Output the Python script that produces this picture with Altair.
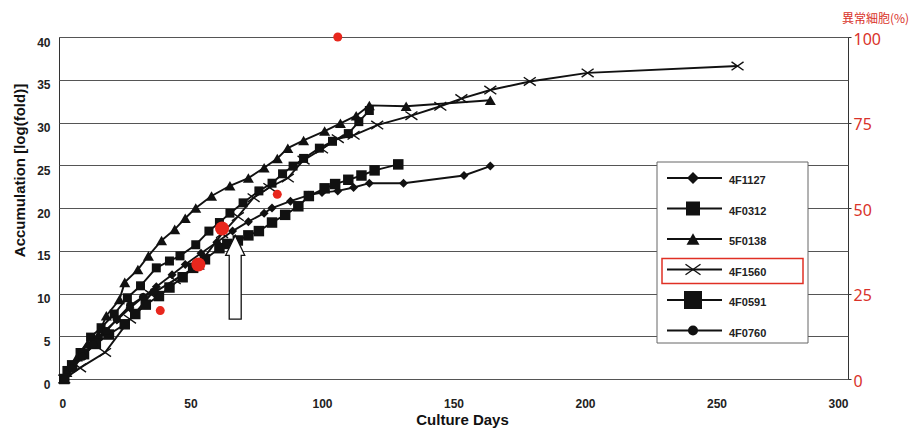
import altair as alt
import pandas as pd

# ---------------- data ----------------
series_names = ["4F1127", "4F0312", "5F0138", "4F1560", "4F0591", "4F0760"]

days_4F1127 = [2, 5, 9, 13, 17, 22, 27, 32, 37, 43, 48, 54, 60, 66, 72, 78, 81, 88, 95, 100, 106, 112, 118, 131, 154, 164]
acc_4F1127 = [0, 1.4, 2.8, 4.2, 5.5, 6.9, 8.3, 9.6, 10.8, 12.2, 13.4, 14.7, 16.0, 17.3, 18.4, 19.4, 20.0, 20.8, 21.5, 21.8, 22.0, 22.4, 22.9, 22.9, 23.8, 24.9]

days_4F0312 = [2, 3, 8, 12, 16, 21, 26, 31, 37, 42, 46, 52, 57, 61, 65, 70, 76, 81, 85, 89, 93, 99, 104, 110, 114, 118]
acc_4F0312 = [0, 1.0, 3.1, 4.9, 6.0, 7.6, 9.5, 10.9, 13.0, 13.8, 14.4, 15.7, 17.3, 18.3, 19.4, 20.6, 22.0, 22.9, 24.0, 24.9, 25.8, 27.0, 27.8, 28.7, 30.1, 31.4]

days_5F0138 = [2, 3, 7, 11, 15, 18, 23, 25, 30, 34, 39, 44, 48, 52, 58, 65, 72, 78, 83, 87, 93, 101, 107, 113, 118, 132, 164]
acc_5F0138 = [0, 0.8, 2.6, 4.1, 5.2, 7.4, 9.3, 11.3, 12.8, 14.4, 16.2, 17.5, 18.8, 20.0, 21.4, 22.6, 23.5, 24.7, 25.8, 27.0, 27.9, 29.0, 29.9, 30.8, 32.0, 31.9, 32.6]

days_4F1560 = [2, 8, 17.5, 27, 35, 44, 53, 62, 68, 74, 80, 87, 93, 100, 106, 112, 121, 134, 145, 153, 164, 179, 201, 258]
acc_4F1560 = [0, 1.3, 3.1, 7.0, 9.9, 11.6, 13.3, 17.0, 19.0, 21.2, 22.4, 23.5, 25.6, 26.9, 28.1, 28.5, 29.7, 30.8, 31.9, 32.8, 33.8, 34.8, 35.8, 36.6]

days_4F0591 = [2, 5, 9.5, 14, 19, 25, 29, 33, 38, 42, 47, 51, 55.5, 61, 64, 68, 72, 76, 81, 86, 91, 95, 101, 105, 110, 115, 120, 129]
acc_4F0591 = [0, 1.6, 2.9, 4.1, 5.2, 6.4, 7.6, 8.7, 9.7, 10.7, 11.9, 13.0, 14.0, 15.3, 15.8, 16.2, 16.8, 17.3, 18.3, 19.2, 20.2, 21.4, 22.3, 22.8, 23.3, 23.8, 24.4, 25.1]

days_4F0760 = [2, 5, 9, 13, 18, 22, 27, 32, 36]
acc_4F0760 = [0, 1.2, 2.6, 4.0, 5.6, 7.0, 8.6, 9.6, 10.2]

series_days = [days_4F1127, days_4F0312, days_5F0138, days_4F1560, days_4F0591, days_4F0760]
series_acc = [acc_4F1127, acc_4F0312, acc_5F0138, acc_4F1560, acc_4F0591, acc_4F0760]

# abnormal cells (%) - right axis
red_days = [38.5, 53, 62, 83, 106]
red_pct = [20, 33.5, 44, 54, 100]
red_kind = ["small", "large", "large", "small", "small"]

# arrow annotation (culture day, from / to on the left axis)
arrow_day = [67]
arrow_from = [7.0]
arrow_to = [16.8]

x_ticks = [0, 50, 100, 150, 200, 250, 300]
y_ticks = [0, 5, 10, 15, 20, 25, 30, 35, 40]
pct_ticks = [0, 25, 50, 75, 100]

# ---------------- styling ----------------
W, H = 789, 342
INK = "#111111"
RED = "#d9322a"
FONT = "Liberation Sans"

X_PATH = "M -1 -0.7 L 1 0.7 M -1 0.7 L 1 -0.7"
styles = {
    "4F1127": dict(shape="diamond", filled=True, size=81, lsize=144),
    "4F0312": dict(shape="square", filled=True, size=81, lsize=196),
    "5F0138": dict(shape="triangle-up", filled=True, size=121, lsize=169),
    "4F1560": dict(shape=X_PATH, filled=False, size=144, lsize=225),
    "4F0591": dict(shape="square", filled=True, size=110, lsize=324),
    "4F0760": dict(shape="circle", filled=True, size=64, lsize=100),
}

frames = []
for name, d, v in zip(series_names, series_days, series_acc):
    frames.append(pd.DataFrame({"series": name, "day": d, "acc": v}))
df = pd.concat(frames, ignore_index=True)

X = alt.X(
    "day:Q",
    scale=alt.Scale(domain=[0, 300], nice=False),
    axis=alt.Axis(
        values=x_ticks, grid=False, domain=False, ticks=False,
        labelPadding=19, labelFont=FONT, labelFontSize=12, labelFontWeight="bold",
        labelColor="#222", title="Culture Days", titleFont=FONT, titleFontSize=15,
        titleFontWeight="bold", titleColor=INK, titlePadding=3, titleX=403,
    ),
)
Y = alt.Y(
    "acc:Q",
    scale=alt.Scale(domain=[0, 40], nice=False),
    axis=alt.Axis(
        values=y_ticks, grid=True, gridColor="#555", gridWidth=1, domain=False,
        ticks=False, labelPadding=9, labelOffset=5, labelFont=FONT, labelFontSize=12,
        labelFontWeight="bold", labelColor="#222",
        title="Accumulation [log(fold)]", titleFont=FONT, titleFontSize=15,
        titleFontWeight="bold", titleColor=INK, titleAngle=270, titleX=-40,
        titleY=133, titleAlign="center", titleBaseline="middle",
    ),
)

lines = alt.Chart(df).mark_line(color=INK, strokeWidth=1.9).encode(
    x=X, y=Y, detail="series:N"
)

point_layers = []
for name in series_names:
    st = styles[name]
    sub = df[df.series == name]
    if st["filled"]:
        mk = alt.Chart(sub).mark_point(shape=st["shape"], filled=True, fill=INK,
                                       size=st["size"], opacity=1, strokeWidth=0)
    else:
        mk = alt.Chart(sub).mark_point(shape=st["shape"], filled=False, stroke=INK,
                                       size=st["size"], opacity=1, strokeWidth=1.4)
    point_layers.append(mk.encode(x=X, y=Y))

# arrow drawn as one custom symbol, sized from the axis scale
px_len = (arrow_to[0] - arrow_from[0]) * H / 40.0
r = px_len / 2.0
hb = -1 + 20.0 / r
ARROW = (f"M {-6/r:.3f} 1 L {-6/r:.3f} {hb:.3f} L {-9.5/r:.3f} {hb:.3f} L 0 -1 "
         f"L {9.5/r:.3f} {hb:.3f} L {6/r:.3f} {hb:.3f} L {6/r:.3f} 1 Z")
arrow_df = pd.DataFrame({"day": arrow_day,
                         "acc": [(a + b) / 2 for a, b in zip(arrow_from, arrow_to)]})
arrow = alt.Chart(arrow_df).mark_point(
    shape=ARROW, filled=True, fill="white", stroke=INK, strokeWidth=1.3,
    size=px_len ** 2, opacity=1
).encode(x=X, y=Y)

main = alt.layer(lines, *point_layers, arrow)

red_df = pd.DataFrame({"day": red_days, "pct": red_pct, "kind": red_kind})
red = alt.Chart(red_df).mark_circle(color="#e8271d", opacity=1).encode(
    x=X,
    y=alt.Y(
        "pct:Q",
        scale=alt.Scale(domain=[0, 100], nice=False),
        axis=alt.Axis(
            orient="right", values=pct_ticks, grid=False, domain=False, ticks=True,
            tickSize=3, tickColor="#333", labelPadding=2, labelOffset=2,
            labelFont="Noto Sans", labelFontSize=16, labelColor=RED,
            title="異常細胞(%)", titleFont="Noto Sans CJK JP", titleFontSize=12,
            titleFontWeight="normal", titleColor=RED, titleAngle=0, titleX=27,
            titleY=-19, titleAlign="center", titleBaseline="middle",
        ),
    ),
    size=alt.Size("kind:N", scale=alt.Scale(domain=["small", "large"], range=[81, 196]),
                  legend=None),
)

# ---------------- legend box (layout) ----------------
one = pd.DataFrame({"k": [0]})
LX0, LX1, LY0, LY1 = 598, 749, 125, 306
row0, row_step = 141, 30.5
legend_layers = [
    alt.Chart(one).mark_rect(fill="white", stroke="#666", strokeWidth=1).encode(
        x=alt.value(LX0), x2=alt.value(LX1), y=alt.value(LY0), y2=alt.value(LY1))
]
for i, name in enumerate(series_names):
    ry = row0 + i * row_step
    st = styles[name]
    legend_layers.append(
        alt.Chart(one).mark_rule(color=INK, strokeWidth=1.8).encode(
            x=alt.value(LX0 + 10), x2=alt.value(LX0 + 65), y=alt.value(ry)))
    if st["filled"]:
        pm = alt.Chart(one).mark_point(shape=st["shape"], filled=True, fill=INK,
                                       size=st["lsize"], opacity=1, strokeWidth=0)
    else:
        pm = alt.Chart(one).mark_point(shape=st["shape"], filled=False, stroke=INK,
                                       size=st["lsize"], opacity=1, strokeWidth=1.4)
    legend_layers.append(pm.encode(x=alt.value(LX0 + 36), y=alt.value(ry)))
    legend_layers.append(
        alt.Chart(one).mark_text(align="left", baseline="middle", font=FONT,
                                 fontSize=11, fontWeight="bold", color="#222").encode(
            x=alt.value(LX0 + 72), y=alt.value(ry + 3), text=alt.value(name)))
    if name == "4F1560":
        legend_layers.append(
            alt.Chart(one).mark_rect(fill=None, stroke="#e03024", strokeWidth=1.5).encode(
                x=alt.value(LX0 + 5), x2=alt.value(LX1 - 5),
                y=alt.value(ry - 11), y2=alt.value(ry + 14)))

chart = (
    alt.layer(main, red, *legend_layers)
    .resolve_scale(y="independent")
    .properties(width=W, height=H, autosize=alt.AutoSizeParams(type="none"),
                padding={"left": 51, "top": 29, "right": 63, "bottom": 54},
                background="white")
    .configure_view(stroke="#333", strokeWidth=1)
)

chart.save("out.html", embed_options={"renderer": "svg", "actions": False})
